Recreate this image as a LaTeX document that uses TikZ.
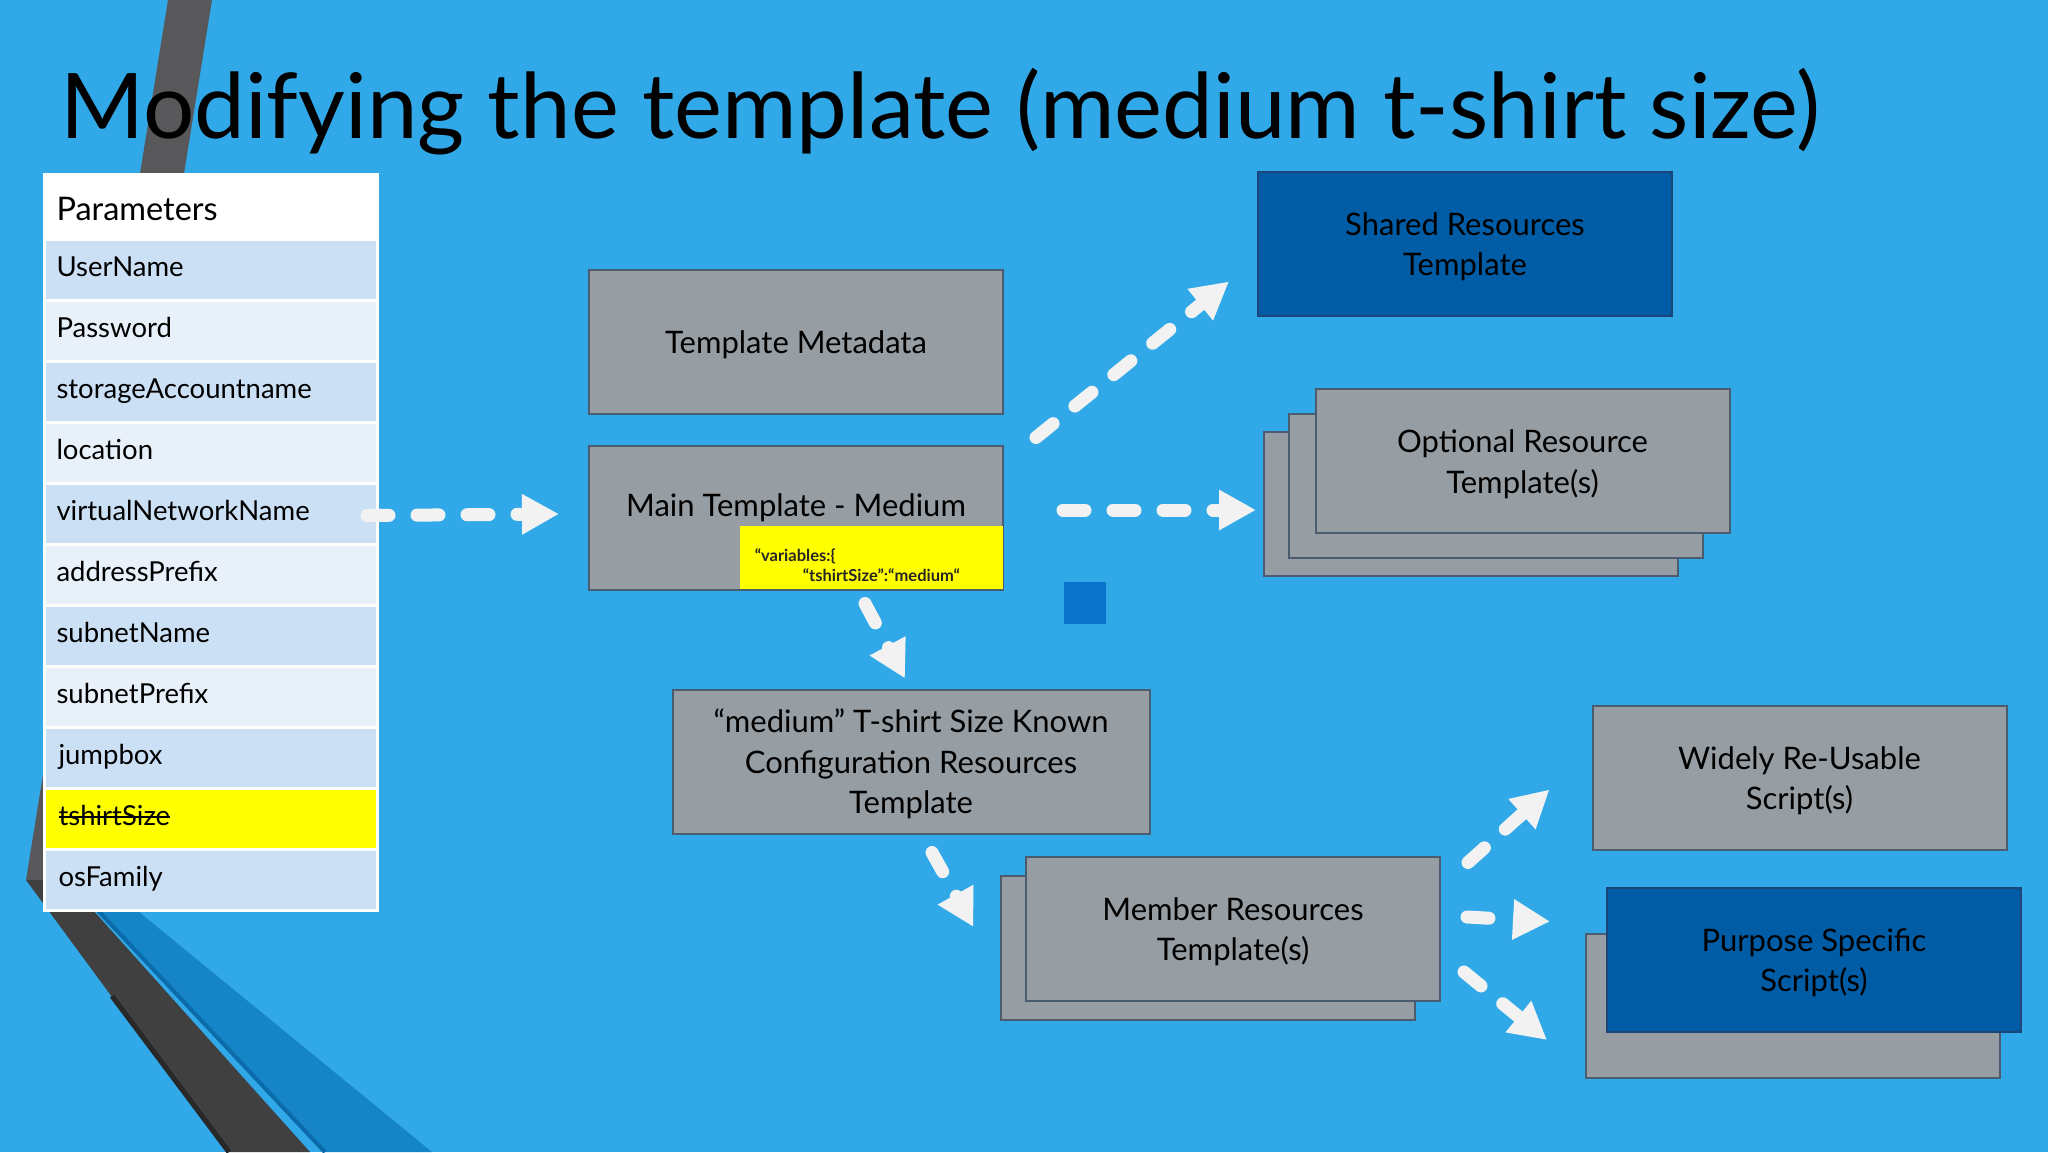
\documentclass[tikz,border=0pt]{standalone}
\usepackage{fontspec}
\setmainfont{Lato}
\usetikzlibrary{arrows.meta}
\definecolor{bgblue}{RGB}{49, 169, 232}
\definecolor{stripegray}{RGB}{88, 88, 90}
\definecolor{banddark}{RGB}{64, 64, 64}
\definecolor{bandshade}{RGB}{40, 40, 40}
\definecolor{bandblue}{RGB}{21, 133, 200}
\definecolor{bandedge}{RGB}{12, 108, 170}
\definecolor{rowdark}{RGB}{204, 224, 245}
\definecolor{rowlight}{RGB}{232, 240, 250}
\definecolor{rowyellow}{RGB}{255, 255, 0}
\definecolor{boxgray}{RGB}{150, 158, 164}
\definecolor{boxedge}{RGB}{74, 92, 110}
\definecolor{boxblue}{RGB}{0, 92, 165}
\definecolor{blueedge}{RGB}{28, 70, 120}
\definecolor{squareblue}{RGB}{10, 116, 204}
\definecolor{arrowwhite}{RGB}{242, 242, 242}
\definecolor{codetext}{RGB}{38, 38, 38}

\newcommand{\strikeout}[1]{\setbox0\hbox{#1}\rlap{\rule[0.26em]{\wd0}{0.07em}}\box0}
\newcommand{\liftstrut}{\rule{0pt}{29pt}}

\tikzset{
  param/.style={rectangle, anchor=north west, draw=white, line width=3pt,
    minimum height=61pt, text width=309pt, inner xsep=12pt, inner ysep=0pt,
    align=left, text height=18pt, text depth=6pt,
    font=\fontsize{27.5}{32}\selectfont},
  tbox/.style={rectangle, draw=boxedge, fill=boxgray, line width=2pt,
    minimum width=414pt, minimum height=144pt, outer sep=0pt, align=center,
    font=\fontsize{31}{40.5}\selectfont},
  codebox/.style={rectangle, fill=rowyellow, minimum width=263pt,
    minimum height=63pt, text width=233pt, inner xsep=15pt, align=left,
    text=codetext, font=\bfseries\fontsize{16.5}{20}\selectfont},
  flow/.style={draw=arrowwhite, line width=13pt, line cap=round,
    dash pattern=on 22pt off 28pt,
    -{Triangle[length=37pt, width=38pt]}}
}

\begin{document}
\begin{tikzpicture}[x=1pt, y=-1pt]
    \useasboundingbox (0, 0) rectangle (2048, 1152);
    \fill [bgblue] (0, 0) rectangle (2048, 1152);

    % folded stripes on the left
    \fill [stripegray] (168, 0) -- (212, 0) -- (70, 880) -- (26, 880) -- cycle;
    \fill [bandblue] (70, 880) -- (100, 880) -- (432, 1152) -- (322, 1152) -- cycle;
    \draw [bandedge, line width=4pt] (73, 884) -- (325, 1152);
    \fill [banddark] (26, 880) -- (66, 880) -- (310, 1152) -- (226, 1152) -- cycle;
    \draw [bandshade, line width=5pt] (112, 996) -- (229, 1152);

    \node [anchor=base west, inner sep=0pt, font=\fontsize{90.6}{110}\selectfont] (title) at (60, 138)
      {Modifying the template (medium t-shirt size)};

    % parameter table
    \node [param, fill=white, minimum height=65pt, text height=26pt, text depth=0pt,
      font=\fontsize{32.5}{40}\selectfont] (head) at (43, 173) {Parameters};
    \foreach \name/\txt/\tone [count=\i from 0] in {user/UserName/rowdark,
        pass/Password/rowlight, store/storageAccountname/rowdark,
        loc/location/rowlight, vnet/virtualNetworkName/rowdark,
        addr/addressPrefix/rowlight, snet/subnetName/rowdark,
        spre/subnetPrefix/rowlight, jump/\hspace{2pt}jumpbox/rowdark,
        tshirt/{\hspace{2pt}\strikeout{tshirtSize}}/rowyellow, os/\hspace{2pt}osFamily/rowdark}
      \node [param, fill=\tone] (\name) at (43, 238 + 61*\i) {\txt};

    % templates
    \node [tbox] (meta) at (796, 342) {\liftstrut Template Metadata};
    \node [tbox, text depth=32pt] (main) at (796, 517.5) {\liftstrut Main Template - Medium};
    \node [codebox, anchor=south east] (code) at (main.south east)
      {\rule{0pt}{28pt}“variables:\{\\\hspace*{48pt}“tshirtSize”:“medium“};

    \node [tbox, fill=boxblue, draw=blueedge] (shared) at (1465, 243.5)
      {\liftstrut Shared Resources\\Template};
    \node [tbox] (optback) at (1471, 504) {};
    \node [tbox] (optmid) at (1496, 485.5) {};
    \node [tbox] (optfront) at (1522.5, 461) {\liftstrut Optional Resource\\Template(s)};
    \node [fill=squareblue, minimum size=42pt, inner sep=0pt] (dot) at (1085, 602.5) {};

    \node [tbox, minimum width=477pt] (medium) at (911, 761.5)
      {\liftstrut “medium” T-shirt Size Known\\Configuration Resources\\Template};
    \node [tbox] (memberback) at (1207.5, 948) {};
    \node [tbox] (member) at (1233, 928.5) {\liftstrut Member Resources\\Template(s)};

    \node [tbox] (widely) at (1799.5, 777.5) {\liftstrut Widely Re-Usable\\Script(s)};
    \node [tbox] (purposeback) at (1793, 1005.5) {};
    \node [tbox, fill=boxblue, draw=blueedge] (purpose) at (1814, 959.5)
      {\liftstrut Purpose Specific\\Script(s)};

    % dashed arrows
    \draw [flow] ([shift={(-12, 1.5)}]vnet.east) -- ([shift={(-30, -3.5)}]main.west);
    \draw [flow] ([shift={(33, -8)}]main.north east) -- ([shift={(-29, -34)}]shared.south west);
    \draw [flow] ([shift={(60, -7.5)}]main.east) -- ([shift={(-8, 6)}]optback.west);
    \draw [flow] ([shift={(69, 14)}]main.south) -- ([shift={(-6, -11)}]medium.north);
    \draw [flow] ([shift={(21, 19)}]medium.south) -- ([shift={(-27, 51)}]memberback.north west);
    \draw [flow] ([shift={(28, -66)}]member.east) -- ([shift={(-43, -60)}]widely.south west);
    \draw [flow] ([shift={(27, -11.5)}]member.east) -- ([shift={(-36, -12)}]purposeback.north west);
    \draw [flow] ([shift={(24, 43.5)}]member.east) -- ([shift={(-39, 34.5)}]purposeback.west);
\end{tikzpicture}
\end{document}
